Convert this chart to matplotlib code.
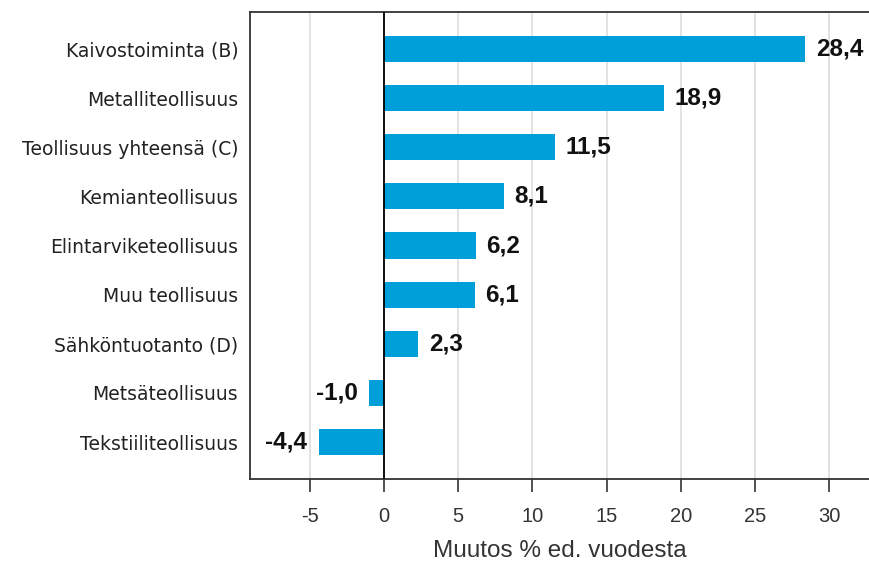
import matplotlib
matplotlib.use("Agg")
import matplotlib.pyplot as plt

categories = [
    "Kaivostoiminta (B)",
    "Metalliteollisuus",
    "Teollisuus yhteensä (C)",
    "Kemianteollisuus",
    "Elintarviketeollisuus",
    "Muu teollisuus",
    "Sähköntuotanto (D)",
    "Metsäteollisuus",
    "Tekstiiliteollisuus",
]
values = [28.4, 18.9, 11.5, 8.1, 6.2, 6.1, 2.3, -1.0, -4.4]
xticks = [-5, 0, 5, 10, 15, 20, 25, 30]
xlabel = "Muutos % ed. vuodesta"

BAR_COLOR = "#009FDA"


def fmt(v):
    return f"{v:.1f}".replace(".", ",")


def main():
    fig = plt.figure(figsize=(8.69, 5.68), dpi=100)
    ax = fig.add_axes([250 / 869, 1 - 479 / 568, 619 / 869, 467 / 568])

    ypos = list(range(len(categories)))
    ax.barh(ypos, values, height=0.53, color=BAR_COLOR, zorder=3)

    for y, v in zip(ypos, values):
        off = 7.5 if v >= 0 else -8.5
        ax.annotate(fmt(v), (v, y), xytext=(off, 0), textcoords="offset points",
                    ha="left" if v >= 0 else "right", va="center",
                    fontsize=17.5, fontweight="bold", family="Liberation Sans",
                    color="#111111", zorder=4)

    ax.set_xlim(-9.05, 32.7)
    ax.set_ylim(len(categories) - 0.25, -0.75)
    ax.set_yticks(ypos)
    ax.set_yticklabels(categories, fontsize=13.5, family="DejaVu Sans", color="#222222")
    ax.tick_params(axis="y", length=0, pad=8.5)

    ax.set_xticks(xticks)
    ax.set_xticklabels([str(t) for t in xticks], fontsize=14.5, family="Liberation Sans",
                       color="#333333")
    ax.tick_params(axis="x", direction="out", length=9, width=1.2, color="#333333", pad=11)
    ax.set_xlabel(xlabel, fontsize=17.5, family="Liberation Sans", color="#333333", labelpad=10)

    ax.grid(axis="x", color="#dddddd", linewidth=1.2, zorder=0)
    ax.axvline(0, color="black", linewidth=1.3, zorder=5)
    for side in ("left", "top", "bottom"):
        ax.spines[side].set_color("#333333")
        ax.spines[side].set_linewidth(1.3)
    ax.spines["right"].set_visible(False)

    fig.savefig("out.png", dpi=100)
    plt.close(fig)


if __name__ == "__main__":
    main()
